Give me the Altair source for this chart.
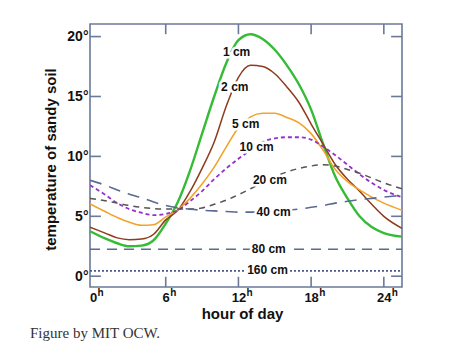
import altair as alt
import pandas as pd

# ---------------- data ----------------
hours = [-0.25, 1, 2, 3, 4, 5, 6, 7, 8, 9, 10, 11, 12, 13, 14, 15, 16, 17, 18, 19, 20, 21, 22, 23, 24, 25.5]

t_1cm = [3.75, 3.15, 2.75, 2.5, 2.55, 3.0, 4.4, 6.2, 8.8, 11.9, 15.0, 17.8, 19.7, 20.2, 19.8, 18.9, 17.6, 16.0, 13.9, 11.0, 8.3, 6.5, 5.0, 4.1, 3.6, 3.3]
t_2cm = [4.1, 3.6, 3.2, 3.05, 3.1, 3.5, 4.7, 5.5, 7.05, 9.0, 11.2, 14.2, 16.6, 17.6, 17.5, 16.9, 15.8, 14.5, 12.7, 11.0, 9.3, 8.1, 7.1, 6.0, 5.0, 4.0]
t_5cm = [6.05, 5.4, 4.9, 4.5, 4.25, 4.3, 4.95, 5.55, 6.5, 7.7, 9.1, 10.8, 12.4, 13.3, 13.6, 13.6, 13.25, 12.8, 11.9, 10.5, 8.9, 7.9, 7.2, 6.6, 6.1, 5.5]
t_10cm = [7.6, 6.8, 6.1, 5.6, 5.3, 5.1, 5.2, 5.5, 6.25, 7.1, 8.1, 9.0, 9.8, 10.5, 11.2, 11.5, 11.6, 11.6, 11.4, 10.8, 10.1, 9.3, 8.5, 7.8, 7.2, 6.6]
t_20cm = [6.5, 6.3, 6.1, 5.9, 5.75, 5.65, 5.6, 5.6, 5.6, 5.7, 6.0, 6.35, 6.8, 7.3, 7.8, 8.3, 8.7, 9.0, 9.2, 9.3, 9.2, 8.9, 8.6, 8.2, 7.8, 7.3]
t_40cm = [8.0, 7.6, 7.2, 6.85, 6.55, 6.2, 5.9, 5.7, 5.6, 5.5, 5.45, 5.4, 5.35, 5.35, 5.35, 5.4, 5.5, 5.6, 5.75, 5.9, 6.1, 6.25, 6.4, 6.5, 6.6, 6.75]
t_80cm = [2.25] * len(hours)
t_160cm = [0.45] * len(hours)

depths = ["1 cm", "2 cm", "5 cm", "10 cm", "20 cm", "40 cm", "80 cm", "160 cm"]
values = [t_1cm, t_2cm, t_5cm, t_10cm, t_20cm, t_40cm, t_80cm, t_160cm]

# curve labels (text, hour, temperature)
label_text = ["1 cm", "2 cm", "5 cm", "10 cm", "20 cm", "40 cm", "80 cm", "160 cm"]
label_h = [11.85, 11.7, 12.6, 13.5, 14.6, 14.9, 14.5, 14.4]
label_t = [18.7, 15.8, 12.7, 10.8, 8.0, 5.36, 2.25, 0.5]

x_ticks = [0, 6, 12, 18, 24]
x_ticks_1digit = [0, 6]
x_ticks_2digit = [12, 18, 24]
y_ticks = [0, 5, 10, 15, 20]
x_inner_ticks = [6, 12, 18, 24]

x_domain = [-0.25, 25.5]
y_domain = [-0.9, 21.05]

# ---------------- styles ----------------
frame = "#6b7898"
styles = {
    "1 cm": dict(color="#35bb35", strokeWidth=2.4),
    "2 cm": dict(color="#8e3b1c", strokeWidth=1.5),
    "5 cm": dict(color="#f2a32c", strokeWidth=1.6),
    "10 cm": dict(color="#9430cc", strokeWidth=1.8, strokeDash=[4, 3]),
    "20 cm": dict(color="#5b5252", strokeWidth=1.5, strokeDash=[6, 5]),
    "40 cm": dict(color="#5a6a92", strokeWidth=1.6, strokeDash=[12, 8]),
    "80 cm": dict(color="#5a6a92", strokeWidth=1.6, strokeDash=[10, 7]),
    "160 cm": dict(color="#4a5a8a", strokeWidth=1.6, strokeDash=[2, 2]),
}

rows = []
for name, vals in zip(depths, values):
    for h, v in zip(hours, vals):
        rows.append({"depth": name, "hour": h, "temp": v})
df = pd.DataFrame(rows)

xs = alt.Scale(domain=x_domain, nice=False, zero=False)
ys = alt.Scale(domain=y_domain, nice=False, zero=False)

x_axis = alt.Axis(
    values=x_ticks, ticks=False, domain=False, grid=False,
    labelFont="Liberation Sans", labelFontWeight="bold", labelFontSize=13, labelColor="#111",
    labelPadding=4, labelOffset=0, labelFlush=False,
    title="hour of day", titleFont="Liberation Sans", titleFontWeight="bold", titleFontSize=15,
    titleColor="#111", titleX=152, titleY=31.5, titleAlign="center", titleBaseline="alphabetic",
)
y_axis = alt.Axis(
    values=y_ticks, labelExpr="datum.value + '°'", ticks=False, domain=False, grid=False,
    labelFont="Liberation Sans", labelFontWeight="bold", labelFontSize=14, labelColor="#111",
    labelPadding=2, labelFlush=False,
    title="temperature of sandy soil", titleFont="Liberation Sans", titleFontWeight="bold",
    titleFontSize=15, titleColor="#111", titleAngle=270, titleX=-35, titleY=135,
    titleAlign="center", titleBaseline="alphabetic",
)


def X(field):
    return alt.X(field, scale=xs, axis=x_axis)


def Y(field):
    return alt.Y(field, scale=ys, axis=y_axis)


layers = []
for name in depths:
    st = styles[name]
    ch = alt.Chart(df).transform_filter(alt.datum.depth == name).mark_line(
        interpolate="monotone", clip=True, **st
    ).encode(x=X("hour:Q"), y=Y("temp:Q"))
    layers.append(ch)

lab = pd.DataFrame({"text": label_text, "hour": label_h, "temp": label_t})
halo = alt.Chart(lab).mark_text(
    font="Liberation Sans", fontWeight="bold", fontSize=12, stroke="white", strokeWidth=5,
    fill="white", align="center", baseline="middle"
).encode(x=X("hour:Q"), y=Y("temp:Q"), text="text:N")
txt = alt.Chart(lab).mark_text(
    font="Liberation Sans", fontWeight="bold", fontSize=12, color="#111",
    align="center", baseline="middle"
).encode(x=X("hour:Q"), y=Y("temp:Q"), text="text:N")


# superscript "h" after each hour label
def sup_layer(vals, dx):
    return alt.Chart(pd.DataFrame({"hour": vals, "s": ["h"] * len(vals)})).mark_text(
        font="Liberation Sans", fontWeight="bold", fontSize=10, color="#111",
        align="left", baseline="middle", dx=dx
    ).encode(x=X("hour:Q"), y=alt.value(269), text="s:N")


sup1 = sup_layer(x_ticks_1digit, 4.5)
sup2 = sup_layer(x_ticks_2digit, 8)

# inward tick marks on all four sides
tx = 0.9   # tick length in hours
ty = 0.85  # tick length in degrees
trows = []
for v in y_ticks:
    trows.append({"x": x_domain[0], "x2": x_domain[0] + tx, "y": v, "y2": v})
    trows.append({"x": x_domain[1], "x2": x_domain[1] - tx, "y": v, "y2": v})
for v in x_inner_ticks:
    trows.append({"x": v, "x2": v, "y": y_domain[0], "y2": y_domain[0] + ty})
    trows.append({"x": v, "x2": v, "y": y_domain[1], "y2": y_domain[1] - ty})
ticks = alt.Chart(pd.DataFrame(trows)).mark_rule(color=frame, strokeWidth=1.6).encode(
    x=X("x:Q"), x2="x2:Q", y=Y("y:Q"), y2="y2:Q",
)

caption = alt.Chart(pd.DataFrame({"t": ["Figure by MIT OCW."]})).mark_text(
    font="Liberation Serif", fontSize=15, color="#333", align="left", baseline="middle"
).encode(x=alt.value(-60), y=alt.value(309), text="t:N")

chart = alt.layer(*layers, ticks, halo, txt, sup1, sup2, caption).properties(
    width=312, height=263,
    autosize=alt.AutoSizeParams(type="none"),
    padding={"left": 90, "top": 24, "right": 72, "bottom": 67},
    background="white",
).configure_view(stroke=frame, strokeWidth=1.6)

chart.save("out.html", embed_options={"renderer": "svg", "actions": False})
